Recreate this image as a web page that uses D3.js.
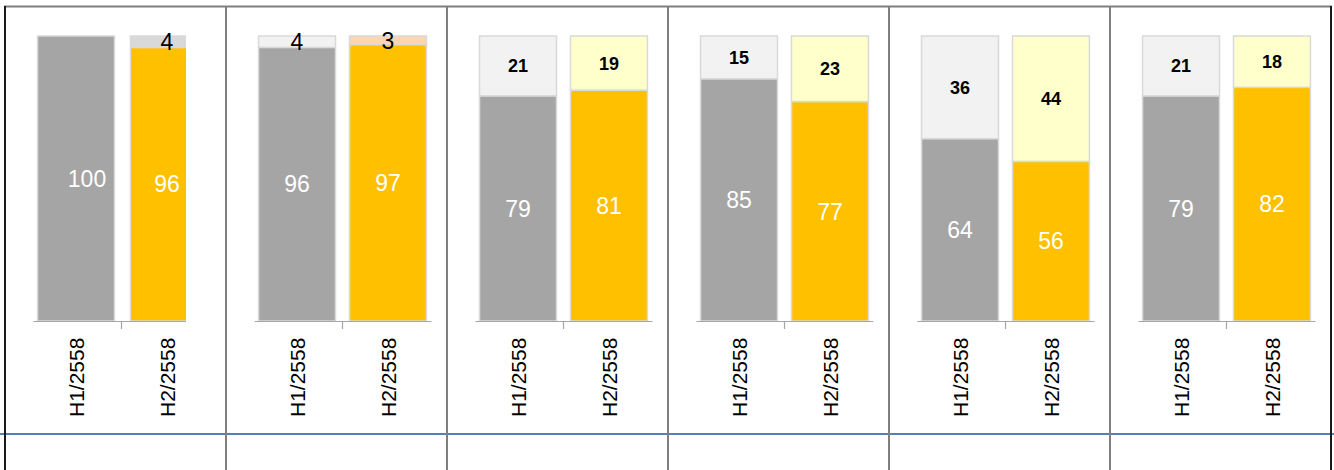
<!DOCTYPE html>
<html>
<head>
<meta charset="utf-8">
<script src="https://cdnjs.cloudflare.com/ajax/libs/d3/7.8.5/d3.min.js"></script>
<style>
  body { margin: 0; background: #fff; }
  svg { display: block; font-family: "Liberation Sans", Arial, sans-serif; }
</style>
</head>
<body>
<div id="chart"></div>
<script>
// data, one entry per panel
var periods = ["H1/2558", "H2/2558"];
var mainValues = [[100, 96], [96, 97], [79, 81], [85, 77], [64, 56], [79, 82]];
var restValues = [[0, 4], [4, 3], [21, 19], [15, 23], [36, 44], [21, 18]];
var mainColors = ["#a5a5a5", "#ffc000"];
var restColors = [
  ["#f2f2f2", "#d9d9d9"],
  ["#f2f2f2", "#fcd5b4"],
  ["#f2f2f2", "#ffffcc"],
  ["#f2f2f2", "#ffffcc"],
  ["#f2f2f2", "#ffffcc"],
  ["#f2f2f2", "#ffffcc"]
];

var width = 1334, height = 470;
var panelW = 221, panelX0 = 5;
var baseY = 321, topY = 36;

var svg = d3.select("#chart").append("svg")
  .attr("width", width)
  .attr("height", height);

var y = d3.scaleLinear().domain([0, 100]).range([baseY, topY]);

mainValues.forEach(function(vals, p) {
  var left = panelX0 + p * panelW;
  var g = svg.append("g");

  // first panel's chart is cut off on the right in the original
  if (p === 0) {
    svg.append("clipPath").attr("id", "clip0")
      .append("rect").attr("x", left).attr("y", 0)
      .attr("width", 181).attr("height", height);
    g.attr("clip-path", "url(#clip0)");
  }

  var x = d3.scaleBand()
    .domain(periods)
    .range([left + 28, left + 205])
    .paddingInner(0.154)
    .paddingOuter(0.05);

  var rows = periods.map(function(d, i) {
    return {period: d, i: i, main: vals[i], rest: restValues[p][i]};
  });

  // main segment
  g.selectAll(".main").data(rows).enter().append("rect")
    .attr("x", d => x(d.period) + (p === 0 && d.i === 1 ? 2 : 0))
    .attr("width", x.bandwidth())
    .attr("y", d => y(d.main))
    .attr("height", d => baseY - y(d.main))
    .style("fill", d => mainColors[d.i])
    .style("stroke", "#d9d9d9")
    .style("stroke-width", 1.5);

  // remainder segment
  g.selectAll(".rest").data(rows.filter(d => d.rest > 0)).enter().append("rect")
    .attr("x", d => x(d.period) + (p === 0 && d.i === 1 ? 2 : 0))
    .attr("width", x.bandwidth())
    .attr("y", d => y(d.main + d.rest))
    .attr("height", d => y(d.main) - y(d.main + d.rest))
    .style("fill", d => restColors[p][d.i])
    .style("stroke", "#d9d9d9")
    .style("stroke-width", 1.5);

  // white value labels
  g.selectAll(".mainLabel").data(rows).enter().append("text")
    .attr("x", d => x(d.period) + x.bandwidth() / 2 + (p === 0 && d.i === 0 ? 11 : 0))
    .attr("y", d => (y(d.main) + baseY) / 2)
    .attr("dy", "0.36em")
    .style("text-anchor", "middle")
    .style("fill", "#fff")
    .style("font-size", "23px")
    .text(d => d.main);

  // top labels: bigger plain text on the thin ones, bold on the rest
  var thin = p < 2;
  g.selectAll(".restLabel").data(rows.filter(d => d.rest > 0)).enter().append("text")
    .attr("x", d => x(d.period) + x.bandwidth() / 2)
    .attr("y", d => (y(d.main + d.rest) + y(d.main)) / 2)
    .attr("dy", "0.36em")
    .style("text-anchor", "middle")
    .style("fill", "#000")
    .style("font-size", thin ? "23px" : "18px")
    .style("font-weight", thin ? "normal" : "bold")
    .text(d => d.rest);

  // x axis
  var axis = g.append("g")
    .attr("transform", "translate(0," + baseY + ")")
    .call(d3.axisBottom(x).tickSize(0).tickPadding(0));
  axis.select(".domain").style("stroke", "#a6a6a6").style("stroke-width", 1.2);
  axis.selectAll("text")
    .attr("transform", "rotate(-90)")
    .attr("x", -96)
    .attr("y", 0)
    .attr("dy", "0.36em")
    .style("text-anchor", "start")
    .style("font-size", "21px")
    .style("font-family", "'Liberation Sans', Arial, sans-serif")
    .style("fill", "#000");

  // divider tick between the two bars
  var mid = x(periods[1]) - x.step() * x.paddingInner() / 2;
  g.append("line")
    .attr("x1", mid).attr("x2", mid)
    .attr("y1", baseY).attr("y2", baseY + 8)
    .style("stroke", "#a6a6a6").style("stroke-width", 1.2);
});

// table grid
svg.append("line").attr("x1", 0).attr("x2", width).attr("y1", 434).attr("y2", 434)
  .style("stroke", "#4f81bd").style("stroke-width", 2);
svg.append("line").attr("x1", 4).attr("x2", 1332).attr("y1", 6.5).attr("y2", 6.5)
  .style("stroke", "#7f7f7f").style("stroke-width", 2);
d3.range(1, 6).forEach(function(k) {
  var xx = panelX0 + k * panelW;
  svg.append("line").attr("x1", xx).attr("x2", xx).attr("y1", 6).attr("y2", height)
    .style("stroke", "#7f7f7f").style("stroke-width", 2);
});
[panelX0, panelX0 + 6 * panelW].forEach(function(xx) {
  svg.append("line").attr("x1", xx).attr("x2", xx).attr("y1", 6).attr("y2", height)
    .style("stroke", "#1a1a1a").style("stroke-width", 2);
});
</script>
</body>
</html>
